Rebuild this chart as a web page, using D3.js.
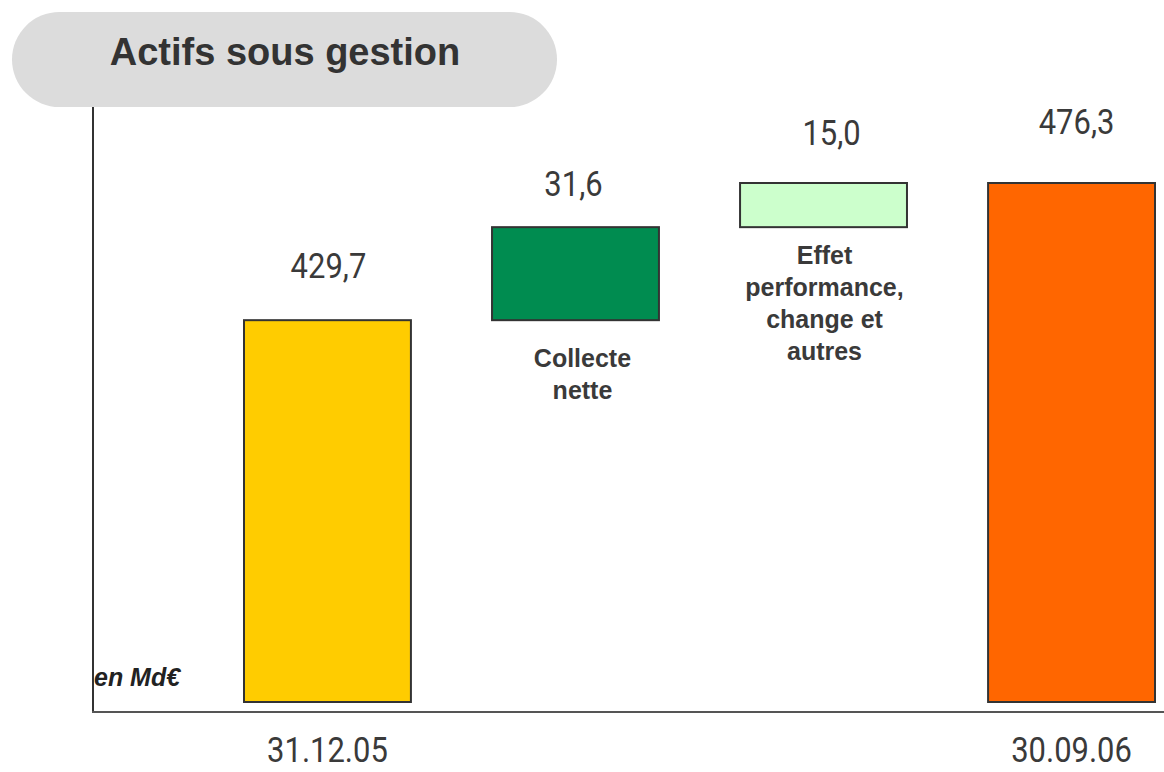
<html>
<head>
<meta charset="utf-8">
<script src="https://d3js.org/d3.v7.min.js"></script>
<style>
  body { margin: 0; background: #ffffff; }
  svg { display: block; }
  .val { font-family: Roboto, sans-serif; font-size: 36px; fill: #3a3a3a; }
  .cat { font-family: "Liberation Sans", Arial, sans-serif; font-weight: bold; font-size: 25px; fill: #3a3a3a; }
</style>
</head>
<body>
<svg id="chart" width="1164" height="772"></svg>
<script>
// data
const categories = ["31.12.05", "Collecte nette", "Effet performance, change et autres", "30.09.06"];
const values = [429.7, 31.6, 15.0, 476.3];
const kinds = ["total", "delta", "delta", "total"];
const catLines = [["31.12.05"], ["Collecte", "nette"], ["Effet", "performance,", "change et", "autres"], ["30.09.06"]];
const colors = ["#ffcc00", "#008c50", "#ccffcc", "#ff6600"];
const yBase = 300;

// layout tweaks for labels (px)
const valGap = [42, 31, 38, 49];
const valDx = [1, -2, 8, 5];
const catGap = [0, 47, 37, 0];
const catDx = [0, 7, 1, 0];

const svg = d3.select("#chart");

// waterfall bars: totals from base, deltas stacked on running sum
let running = 0;
const bars = categories.map((c, i) => {
  let lo, hi;
  if (kinds[i] == "total") { lo = yBase; hi = values[i]; running = values[i]; }
  else { lo = running; hi = running + values[i]; running = hi; }
  return {cat: c, lo: lo, hi: hi, v: values[i], i: i};
});

const x = d3.scaleBand().domain(categories).range([244, 1155]).paddingInner(0.327).paddingOuter(0);
const y = d3.scaleLinear().domain([yBase, 476.3]).range([702, 183]);

const fmt = v => d3.format(".1f")(v).replace(".", ",");

// axes lines
svg.append("line").attr("x1", 93).attr("x2", 93).attr("y1", 100).attr("y2", 713)
  .attr("stroke", "#333").attr("stroke-width", 2);
svg.append("line").attr("x1", 92).attr("x2", 1164).attr("y1", 712).attr("y2", 712)
  .attr("stroke", "#555").attr("stroke-width", 2);

// title pill
svg.append("rect").attr("x", 12).attr("y", 12).attr("width", 545).attr("height", 95)
  .attr("rx", 47.5).attr("fill", "#dcdcdc");
svg.append("text").attr("x", 285).attr("y", 65).attr("text-anchor", "middle")
  .style("font-family", "'Liberation Sans', Arial, sans-serif").style("font-weight", "bold")
  .style("font-size", "38px").style("fill", "#333").text("Actifs sous gestion");

// bars
svg.selectAll("rect.bar").data(bars).join("rect")
  .attr("class", "bar")
  .attr("x", d => x(d.cat))
  .attr("width", x.bandwidth())
  .attr("y", d => y(d.hi))
  .attr("height", d => y(d.lo) - y(d.hi))
  .attr("fill", (d, i) => colors[i])
  .attr("stroke", "#333")
  .attr("stroke-width", 2);

// value labels (condensed look)
svg.selectAll("text.val").data(bars).join("text")
  .attr("class", "val")
  .attr("text-anchor", "middle")
  .attr("transform", d => `translate(${x(d.cat) + x.bandwidth() / 2 + valDx[d.i]},${y(d.hi) - valGap[d.i]}) scale(0.86,1)`)
  .text(d => fmt(d.v));

// category labels under delta bars
bars.filter(d => kinds[d.i] == "delta").forEach(d => {
  const t = svg.append("text").attr("class", "cat").attr("text-anchor", "middle");
  catLines[d.i].forEach((ln, k) => {
    t.append("tspan").attr("x", x(d.cat) + x.bandwidth() / 2 + catDx[d.i])
      .attr("y", y(d.lo) + catGap[d.i] + k * 32).text(ln);
  });
});

// date labels below axis
svg.selectAll("text.date").data(bars.filter(d => kinds[d.i] == "total")).join("text")
  .attr("class", "val date")
  .attr("text-anchor", "middle")
  .attr("transform", d => `translate(${x(d.cat) + x.bandwidth() / 2},762) scale(0.86,1)`)
  .text(d => catLines[d.i][0]);

// unit
svg.append("text").attr("x", 94).attr("y", 686)
  .style("font-family", "'Liberation Sans', Arial, sans-serif").style("font-weight", "bold")
  .style("font-style", "italic").style("font-size", "25px").style("fill", "#222")
  .text("en Md€");
</script>
</body>
</html>
